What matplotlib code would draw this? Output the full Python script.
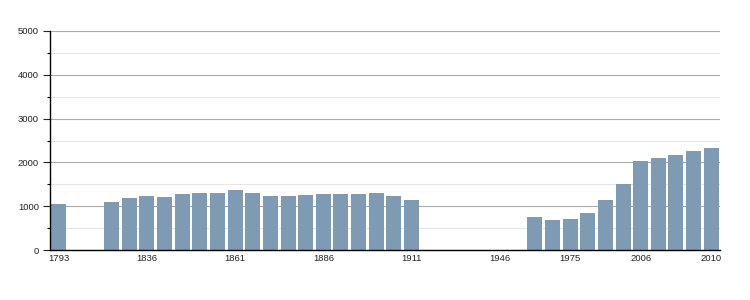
import matplotlib.pyplot as plt
import numpy as np

years = [1793, 1800, 1806, 1821, 1831, 1836, 1841, 1846, 1851, 1856,
         1861, 1866, 1872, 1876, 1881, 1886, 1891, 1896, 1901, 1906,
         1911, 1921, 1926, 1931, 1936, 1946, 1954, 1962, 1968, 1975,
         1982, 1990, 1999, 2006, 2007, 2008, 2009, 2010]
# 0 = no census value shown
population = [1053, 0, 0, 1098, 1189, 1235, 1212, 1280, 1303, 1303,
              1371, 1303, 1235, 1235, 1258, 1280, 1280, 1280, 1303, 1235,
              1144, 0, 0, 0, 0, 0, 0, 758, 689, 712,
              848, 1144, 1508, 2030, 2098, 2167, 2258, 2326]
tick_years = [1793, 1836, 1861, 1886, 1911, 1946, 1975, 2006, 2010]

plt.rcParams['font.family'] = ['Liberation Sans', 'DejaVu Sans']

fig = plt.figure(figsize=(7.5, 3), dpi=100)
ax = fig.add_axes([50/750, 50/300, 670/750, 219/300])

x = np.arange(len(years))
ax.bar(x, population, 0.85, color='#7f9ab3', zorder=2)

ax.set_xlim(-0.5, len(years) - 0.5)
ax.set_ylim(0, 5000)
ax.set_yticks(np.arange(0, 5001, 1000))
ax.set_yticks(np.arange(500, 5000, 1000), minor=True)
ax.grid(axis='y', which='major', color='#aaaaaa', linewidth=0.8, zorder=0)
ax.grid(axis='y', which='minor', color='#e6e6e6', linewidth=0.8, zorder=0)

ax.set_xticks([years.index(y) for y in tick_years])
ax.set_xticklabels([str(y) for y in tick_years])
ax.tick_params(axis='x', length=0, pad=3, labelsize=6.8, colors='#222222')
ax.tick_params(axis='y', which='major', length=5, width=0.8, pad=3, labelsize=6.8, colors='#222222')
ax.tick_params(axis='y', which='minor', length=2.5, width=0.8)

for s in ['top', 'right']:
    ax.spines[s].set_visible(False)
for s in ['left', 'bottom']:
    ax.spines[s].set_color('black')
    ax.spines[s].set_linewidth(1)

fig.savefig('out.png', dpi=100)
